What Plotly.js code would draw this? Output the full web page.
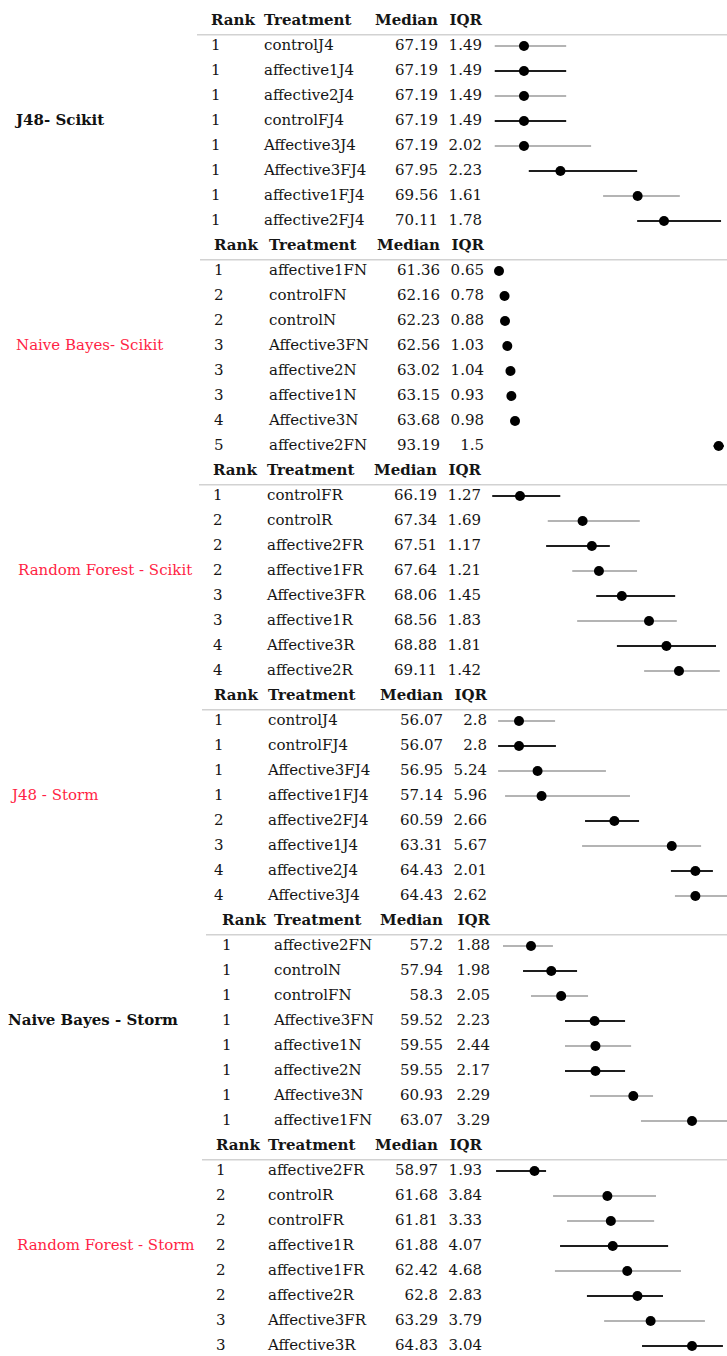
<!DOCTYPE html>
<html><head><meta charset="utf-8">
<script src="https://cdn.plot.ly/plotly-3.0.1.min.js"></script>
<style>html,body{margin:0;padding:0;background:#fff;overflow:hidden}</style>
</head><body><div id="chart" style="width:727px;height:1356px"></div>
<script>
// ---------------- data ----------------
const panelTitles = ["J48- Scikit", "Naive Bayes- Scikit", "Random Forest - Scikit", "J48 - Storm", "Naive Bayes - Storm", "Random Forest - Storm"];
const headerLabels = ["Rank", "Treatment", "Median", "IQR"];

const j48ScikitRank = [1, 1, 1, 1, 1, 1, 1, 1];
const j48ScikitTreatment = ["controlJ4", "affective1J4", "affective2J4", "controlFJ4", "Affective3J4", "Affective3FJ4", "affective1FJ4", "affective2FJ4"];
const j48ScikitMedian = [67.19, 67.19, 67.19, 67.19, 67.19, 67.95, 69.56, 70.11];
const j48ScikitIQR = [1.49, 1.49, 1.49, 1.49, 2.02, 2.23, 1.61, 1.78];
const j48ScikitQ1 = [66.58, 66.58, 66.58, 66.58, 66.58, 67.29, 68.84, 69.55];
const j48ScikitQ3 = [68.07, 68.07, 68.07, 68.07, 68.59, 69.55, 70.44, 71.30];

const nbScikitRank = [1, 2, 2, 3, 3, 3, 4, 5];
const nbScikitTreatment = ["affective1FN", "controlFN", "controlN", "Affective3FN", "affective2N", "affective1N", "Affective3N", "affective2FN"];
const nbScikitMedian = [61.36, 62.16, 62.23, 62.56, 63.02, 63.15, 63.68, 93.19];
const nbScikitIQR = [0.65, 0.78, 0.88, 1.03, 1.04, 0.93, 0.98, 1.5];
const nbScikitQ1 = [61.05, 61.80, 61.80, 62.05, 62.50, 62.70, 63.20, 92.45];
const nbScikitQ3 = [61.70, 62.58, 62.68, 63.08, 63.54, 63.63, 64.18, 93.95];

const rfScikitRank = [1, 2, 2, 2, 3, 3, 4, 4];
const rfScikitTreatment = ["controlFR", "controlR", "affective2FR", "affective1FR", "Affective3FR", "affective1R", "Affective3R", "affective2R"];
const rfScikitMedian = [66.19, 67.34, 67.51, 67.64, 68.06, 68.56, 68.88, 69.11];
const rfScikitIQR = [1.27, 1.69, 1.17, 1.21, 1.45, 1.83, 1.81, 1.42];
const rfScikitQ1 = [65.68, 66.70, 66.67, 67.15, 67.59, 67.24, 67.97, 68.47];
const rfScikitQ3 = [66.93, 68.39, 67.84, 68.34, 69.04, 69.07, 69.79, 69.86];

const j48StormRank = [1, 1, 1, 1, 2, 3, 4, 4];
const j48StormTreatment = ["controlJ4", "controlFJ4", "Affective3FJ4", "affective1FJ4", "affective2FJ4", "affective1J4", "affective2J4", "Affective3J4"];
const j48StormMedian = [56.07, 56.07, 56.95, 57.14, 60.59, 63.31, 64.43, 64.43];
const j48StormIQR = [2.8, 2.8, 5.24, 5.96, 2.66, 5.67, 2.01, 2.62];
const j48StormQ1 = [55.08, 55.08, 55.08, 55.41, 59.20, 59.06, 63.27, 63.46];
const j48StormQ3 = [57.78, 57.82, 60.19, 61.33, 61.76, 64.70, 65.26, 66.08];

const nbStormRank = [1, 1, 1, 1, 1, 1, 1, 1];
const nbStormTreatment = ["affective2FN", "controlN", "controlFN", "Affective3FN", "affective1N", "affective2N", "Affective3N", "affective1FN"];
const nbStormMedian = [57.2, 57.94, 58.3, 59.52, 59.55, 59.55, 60.93, 63.07];
const nbStormIQR = [1.88, 1.98, 2.05, 2.23, 2.44, 2.17, 2.29, 3.29];
const nbStormQ1 = [56.18, 56.91, 57.20, 58.44, 58.44, 58.44, 59.35, 61.21];
const nbStormQ3 = [58.00, 58.88, 59.28, 60.63, 60.85, 60.63, 61.65, 64.50];

const rfStormRank = [1, 2, 2, 2, 2, 2, 3, 3];
const rfStormTreatment = ["affective2FR", "controlR", "controlFR", "affective1R", "affective1FR", "affective2R", "Affective3FR", "Affective3R"];
const rfStormMedian = [58.97, 61.68, 61.81, 61.88, 62.42, 62.8, 63.29, 64.83];
const rfStormIQR = [1.93, 3.84, 3.33, 4.07, 4.68, 2.83, 3.79, 3.04];
const rfStormQ1 = [57.54, 59.66, 60.18, 59.92, 59.73, 60.92, 61.56, 62.97];
const rfStormQ3 = [59.40, 63.49, 63.42, 63.94, 64.42, 63.75, 65.31, 65.98];

// ---------------- styling / layout (not data) ----------------
const panels = [
  {rank: j48ScikitRank, trt: j48ScikitTreatment, med: j48ScikitMedian, iqr: j48ScikitIQR, q1: j48ScikitQ1, q3: j48ScikitQ3},
  {rank: nbScikitRank, trt: nbScikitTreatment, med: nbScikitMedian, iqr: nbScikitIQR, q1: nbScikitQ1, q3: nbScikitQ3},
  {rank: rfScikitRank, trt: rfScikitTreatment, med: rfScikitMedian, iqr: rfScikitIQR, q1: rfScikitQ1, q3: rfScikitQ3},
  {rank: j48StormRank, trt: j48StormTreatment, med: j48StormMedian, iqr: j48StormIQR, q1: j48StormQ1, q3: j48StormQ3},
  {rank: nbStormRank, trt: nbStormTreatment, med: nbStormMedian, iqr: nbStormIQR, q1: nbStormQ1, q3: nbStormQ3},
  {rank: rfStormRank, trt: rfStormTreatment, med: rfStormMedian, iqr: rfStormIQR, q1: rfStormQ1, q3: rfStormQ3}
];
// column positions (x in page pixels via axis 'x'), separator start, label x, dot-axis range
const geo = [
  {c0: 211, c1: 264, c2: 438, c3: 482, sep: 197, lab: 16, xr: [56.262, 71.424], bold: true},
  {c0: 214, c1: 269, c2: 440, c3: 484, sep: 200, lab: 16, xr: [-10.96, 94.40], bold: false},
  {c0: 213, c1: 267, c2: 437, c3: 481, sep: 199, lab: 18, xr: [56.640, 69.992], bold: false},
  {c0: 214, c1: 268, c2: 443, c3: 487, sep: 202, lab: 12, xr: [31.473, 65.928], bold: false},
  {c0: 222, c1: 274, c2: 443, c3: 490, sep: 206, lab: 8, xr: [37.842, 64.346], bold: true},
  {c0: 216, c1: 268, c2: 438, c3: 482, sep: 202, lab: 17, xr: [39.085, 66.131], bold: false}
];
// shade of each IQR line: 1 = dark, 0 = light
const shade = [
  [0, 1, 0, 1, 0, 1, 0, 1],
  [0, 1, 0, 1, 0, 1, 0, 1],
  [1, 0, 1, 0, 1, 0, 1, 0],
  [0, 1, 0, 0, 1, 0, 1, 0],
  [0, 1, 0, 1, 0, 1, 0, 0],
  [1, 0, 0, 1, 0, 1, 0, 1]
];
const FONT = "DejaVu Serif";
const TXT = "#151515";
const RED = "#ff1f45";
const DARK = "#1e1e1e";
const LIGHT = "#b4b4b4";
const ROWS_PER = 9;

const traces = [];
const shapes = [];
const layout = {
  width: 727, height: 1356,
  margin: {l: 0, r: 0, t: 0, b: 0, pad: 0},
  paper_bgcolor: "#fff", plot_bgcolor: "#fff",
  showlegend: false, hovermode: false,
  xaxis: {range: [0, 727], visible: false, fixedrange: true},
  yaxis: {range: [53.4, -0.84], visible: false, fixedrange: true}
};

function textTrace(xs, ys, txt, pos, opts) {
  opts = opts || {};
  return {
    type: "scatter", mode: "text", x: xs, y: ys, text: txt,
    textposition: pos, cliponaxis: false, xaxis: "x", yaxis: "y",
    textfont: {family: FONT, size: opts.size || 15, color: opts.color || TXT, weight: opts.weight || "normal"},
    hoverinfo: "skip"
  };
}

panels.forEach((p, k) => {
  const g = geo[k];
  const h = k * ROWS_PER;
  const rows = p.trt.map((_, i) => h + 1 + i);
  const ax = "x" + (k + 2);
  layout["xaxis" + (k + 2)] = {overlaying: "x", range: g.xr, visible: false, fixedrange: true};

  // header
  traces.push(textTrace([g.c0, g.c1], [h, h], headerLabels.slice(0, 2), "middle right", {weight: "bold"}));
  traces.push(textTrace([g.c2, g.c3], [h, h], headerLabels.slice(2, 4), "middle left", {weight: "bold"}));
  shapes.push({type: "line", xref: "x", yref: "y", x0: g.sep, x1: 727, y0: h + 0.55, y1: h + 0.55,
    line: {color: "#d2d2d2", width: 1.5}});

  // table columns
  traces.push(textTrace(rows.map(() => g.c0), rows, p.rank.map(String), "middle right"));
  traces.push(textTrace(rows.map(() => g.c1), rows, p.trt, "middle right"));
  traces.push(textTrace(rows.map(() => g.c2), rows, p.med.map(String), "middle left"));
  traces.push(textTrace(rows.map(() => g.c3), rows, p.iqr.map(String), "middle left"));

  // panel label
  traces.push(textTrace([g.lab], [h + 4], [panelTitles[k]], "middle right",
    {weight: g.bold ? "bold" : "normal", color: g.bold ? "#111" : RED}));

  // IQR lines
  [0, 1].forEach(s => {
    const xs = [], ys = [];
    p.q1.forEach((v, i) => {
      if (shade[k][i] === s) { xs.push(v, p.q3[i], null); ys.push(rows[i], rows[i], null); }
    });
    traces.push({type: "scatter", mode: "lines", x: xs, y: ys, xaxis: ax, yaxis: "y",
      line: {color: s ? DARK : LIGHT, width: 2}, hoverinfo: "skip", connectgaps: false});
  });
  // medians
  traces.push({type: "scatter", mode: "markers", x: p.med, y: rows, xaxis: ax, yaxis: "y",
    marker: {color: "#000", size: 10, line: {width: 0}}, hoverinfo: "skip"});
});
layout.shapes = shapes;

Plotly.newPlot("chart", traces, layout, {displayModeBar: false, staticPlot: true});
</script>
</body></html>
